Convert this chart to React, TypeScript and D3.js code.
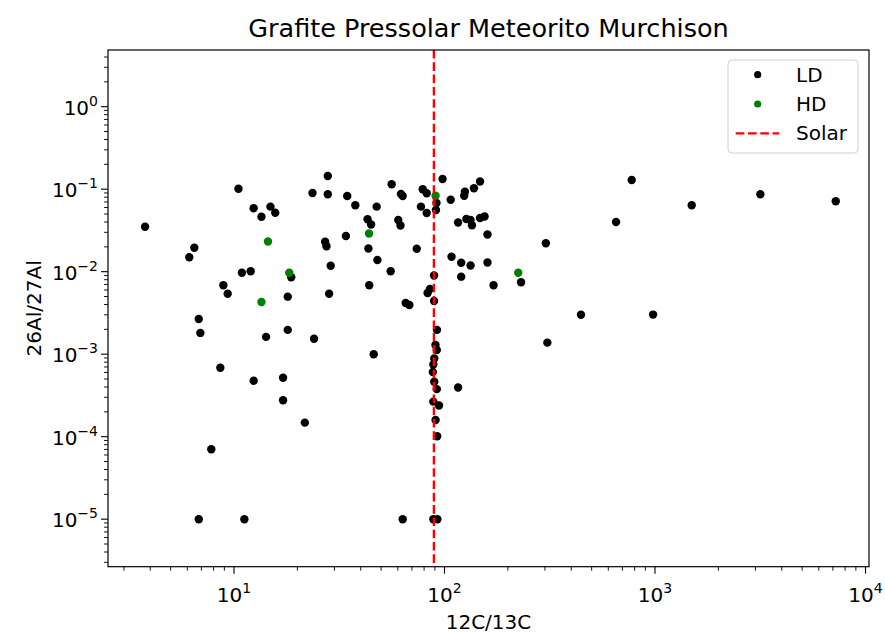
import { useRef, useEffect } from "react";
import * as d3 from "d3";

// LD grains: 12C/13C and 26Al/27Al
const ldCarbon = [
  3.78, 10.5, 12.4, 13.5, 14.9, 15.7, 23.6, 27.9, 27.9, 34.5, 37.7, 34.0, 27.1, 27.5,
  6.48, 6.13, 10.9, 12.0, 18.7, 28.8, 8.9, 9.33, 18.0, 28.3, 6.8, 6.92, 14.2, 18.0,
  24.0, 8.61, 12.4, 17.1, 17.1, 21.7, 7.8, 6.8, 11.2, 63.3, 88.5, 92.5, 56.1, 47.6,
  62.1, 63.3, 78.8, 82.3, 97.9, 107, 77.3, 82.3, 91.1, 91.6, 125, 124, 138, 147.5,
  43.1, 44.8, 60.3, 61.8, 116, 127, 133, 135, 147.5, 155, 160, 303, 43.5, 73.8, 48.0,
  108, 120, 133, 160, 55.5, 89.2, 120, 231, 43.9, 171, 85.3, 83.1, 89.2, 65.4, 68.1,
  445, 979, 308, 92.1, 90.6, 91.9, 89.4, 88.5, 88.0, 89.4, 91.9, 116, 88.5, 94.2,
  90.7, 92.3, 46.1, 775, 1494, 3166, 7222, 653,
];
const ldAluminium = [
  0.0351, 0.101, 0.0587, 0.0464, 0.0614, 0.0519, 0.0899, 0.1445, 0.0867, 0.0827, 0.0638,
  0.0271, 0.0231, 0.0203, 0.0195, 0.01495, 0.00972, 0.0101, 0.00855, 0.01182, 0.00684,
  0.00541, 0.00498, 0.00541, 0.00267, 0.00181, 0.00162, 0.00197, 0.00154, 0.000686,
  0.000477, 0.000519, 0.000276, 0.000148, 0.0000704, 1e-5, 1e-5, 1e-5, 1e-5, 1e-5,
  0.1147, 0.0614, 0.0875, 0.0827, 0.0997, 0.0892, 0.133, 0.0746, 0.0614, 0.0515, 0.056,
  0.068, 0.0933, 0.0834, 0.1025, 0.124, 0.0432, 0.0373, 0.0423, 0.0363, 0.0395, 0.0435,
  0.0423, 0.0365, 0.0448, 0.0467, 0.0282, 0.0221, 0.0191, 0.019, 0.01386, 0.0152,
  0.01285, 0.0119, 0.0129, 0.0101, 0.009, 0.0087, 0.00744, 0.00684, 0.00684, 0.00617,
  0.00552, 0.00441, 0.00418, 0.00395, 0.00301, 0.00302, 0.00138, 0.00197, 0.00129,
  0.001124, 0.000887, 0.00075, 0.000608, 0.000464, 0.000377, 0.000395, 0.000266,
  0.000239, 0.000159, 0.000101, 0.001, 0.1293, 0.0638, 0.0867, 0.0713, 0.04,
];

// HD grains
const hdCarbon = [14.5, 18.3, 13.5, 43.8, 90.7, 224];
const hdAluminium = [0.0232, 0.0097, 0.00429, 0.029, 0.0834, 0.0097];

const solarCarbon = 89;

const xDecades = [1, 2, 3, 4];
const yDecades = [-5, -4, -3, -2, -1, 0];
const legendLabels = ["LD", "HD", "Solar"];

const FONT = "'DejaVu Sans', sans-serif";

const App = () => {
  const ref = useRef<SVGSVGElement | null>(null);

  useEffect(() => {
    if (!ref.current) return;
    const svg = d3.select(ref.current);
    svg.selectAll("*").remove();

    const width = 885;
    const height = 635;
    const margin = { top: 50, right: 16, bottom: 68.3, left: 108 };
    const x0 = margin.left;
    const x1 = width - margin.right;
    const y0 = height - margin.bottom;
    const y1 = margin.top;

    const x = d3
      .scaleLog()
      .domain([Math.pow(10, 0.4014), Math.pow(10, 4.0166)])
      .range([x0, x1]);
    const y = d3
      .scaleLog()
      .domain([Math.pow(10, -5.576), Math.pow(10, 0.687)])
      .range([y0, y1]);

    svg.attr("viewBox", `0 0 ${width} ${height}`);
    svg.append("rect").attr("width", width).attr("height", height).attr("fill", "#fff");

    const minorTicks = (scale: d3.ScaleLogarithmic<number, number>) => {
      const [a, b] = scale.domain();
      const out: number[] = [];
      for (let e = Math.floor(Math.log10(a)); e <= Math.ceil(Math.log10(b)); e++) {
        for (let m = 2; m <= 9; m++) {
          const v = m * Math.pow(10, e);
          if (v >= a && v <= b) out.push(v);
        }
      }
      return out;
    };

    // scatter: LD
    svg
      .append("g")
      .selectAll("circle")
      .data(d3.range(ldCarbon.length))
      .join("circle")
      .attr("cx", (i) => x(ldCarbon[i]))
      .attr("cy", (i) => y(ldAluminium[i]))
      .attr("r", 4.2)
      .attr("fill", "#000");

    // scatter: HD
    svg
      .append("g")
      .selectAll("circle")
      .data(d3.range(hdCarbon.length))
      .join("circle")
      .attr("cx", (i) => x(hdCarbon[i]))
      .attr("cy", (i) => y(hdAluminium[i]))
      .attr("r", 4.2)
      .attr("fill", "#008000");

    // solar line
    svg
      .append("line")
      .attr("x1", x(solarCarbon))
      .attr("x2", x(solarCarbon))
      .attr("y1", y1)
      .attr("y2", y0)
      .attr("stroke", "#ff0000")
      .attr("stroke-width", 2.3)
      .attr("stroke-dasharray", "8.6,3.7");

    // frame
    svg
      .append("rect")
      .attr("x", x0)
      .attr("y", y1)
      .attr("width", x1 - x0)
      .attr("height", y0 - y1)
      .attr("fill", "none")
      .attr("stroke", "#000")
      .attr("stroke-width", 1.2);

    // x ticks
    const gx = svg.append("g");
    gx.selectAll("line.minor")
      .data(minorTicks(x))
      .join("line")
      .attr("x1", (d) => x(d))
      .attr("x2", (d) => x(d))
      .attr("y1", y0)
      .attr("y2", y0 + 4)
      .attr("stroke", "#000")
      .attr("stroke-width", 0.9);
    gx.selectAll("line.major")
      .data(xDecades)
      .join("line")
      .attr("x1", (d) => x(Math.pow(10, d)))
      .attr("x2", (d) => x(Math.pow(10, d)))
      .attr("y1", y0)
      .attr("y2", y0 + 7)
      .attr("stroke", "#000")
      .attr("stroke-width", 1.1);
    const xl = gx
      .selectAll("text")
      .data(xDecades)
      .join("text")
      .attr("x", (d) => x(Math.pow(10, d)))
      .attr("y", 602)
      .attr("text-anchor", "middle")
      .attr("font-family", FONT)
      .attr("font-size", 20)
      .attr("fill", "#000");
    xl.append("tspan").text("10");
    xl.append("tspan")
      .attr("dy", -9)
      .attr("font-size", 14)
      .text((d) => String(d));

    // y ticks
    const gy = svg.append("g");
    gy.selectAll("line.minor")
      .data(minorTicks(y))
      .join("line")
      .attr("x1", x0 - 4)
      .attr("x2", x0)
      .attr("y1", (d) => y(d))
      .attr("y2", (d) => y(d))
      .attr("stroke", "#000")
      .attr("stroke-width", 0.9);
    gy.selectAll("line.major")
      .data(yDecades)
      .join("line")
      .attr("x1", x0 - 7)
      .attr("x2", x0)
      .attr("y1", (d) => y(Math.pow(10, d)))
      .attr("y2", (d) => y(Math.pow(10, d)))
      .attr("stroke", "#000")
      .attr("stroke-width", 1.1);
    const yl = gy
      .selectAll("text")
      .data(yDecades)
      .join("text")
      .attr("x", x0 - 10)
      .attr("y", (d) => y(Math.pow(10, d)) + 8)
      .attr("text-anchor", "end")
      .attr("font-family", FONT)
      .attr("font-size", 20)
      .attr("fill", "#000");
    yl.append("tspan").text("10");
    yl.append("tspan")
      .attr("dy", -9)
      .attr("font-size", 14)
      .text((d) => (d < 0 ? "\u2212" + Math.abs(d) : String(d)));

    // titles
    svg
      .append("text")
      .attr("x", (x0 + x1) / 2)
      .attr("y", 37)
      .attr("text-anchor", "middle")
      .attr("font-family", FONT)
      .attr("font-size", 25.5)
      .text("Grafite Pressolar Meteorito Murchison");
    svg
      .append("text")
      .attr("x", (x0 + x1) / 2)
      .attr("y", 629)
      .attr("text-anchor", "middle")
      .attr("font-family", FONT)
      .attr("font-size", 20)
      .text("12C/13C");
    svg
      .append("text")
      .attr("transform", `translate(41,${(y0 + y1) / 2}) rotate(-90)`)
      .attr("text-anchor", "middle")
      .attr("font-family", FONT)
      .attr("font-size", 20)
      .text("26Al/27Al");

    // legend
    const lg = svg.append("g").attr("transform", "translate(728,60)");
    lg.append("rect")
      .attr("width", 130)
      .attr("height", 93)
      .attr("rx", 4)
      .attr("fill", "#fff")
      .attr("fill-opacity", 0.8)
      .attr("stroke", "#d0d0d0")
      .attr("stroke-width", 1);
    const rows = lg
      .selectAll("g")
      .data(legendLabels)
      .join("g")
      .attr("transform", (_, i) => `translate(0,${14.7 + i * 29.3})`);
    rows
      .filter((d) => d !== "Solar")
      .append("circle")
      .attr("cx", 29.7)
      .attr("cy", 0)
      .attr("r", 3.6)
      .attr("fill", (d) => (d === "LD" ? "#000" : "#008000"));
    rows
      .filter((d) => d === "Solar")
      .append("line")
      .attr("x1", 7.7)
      .attr("x2", 51)
      .attr("y1", 0)
      .attr("y2", 0)
      .attr("stroke", "#ff0000")
      .attr("stroke-width", 2.3)
      .attr("stroke-dasharray", "8.6,3.7");
    rows
      .append("text")
      .attr("x", 68)
      .attr("y", 7)
      .attr("font-family", FONT)
      .attr("font-size", 20)
      .attr("fill", "#000")
      .text((d) => d);
  }, []);

  return (
    <svg
      ref={ref}
      width={885}
      height={635}
      style={{ position: "absolute", left: 0, top: 0 }}
    />
  );
};

export default App;
